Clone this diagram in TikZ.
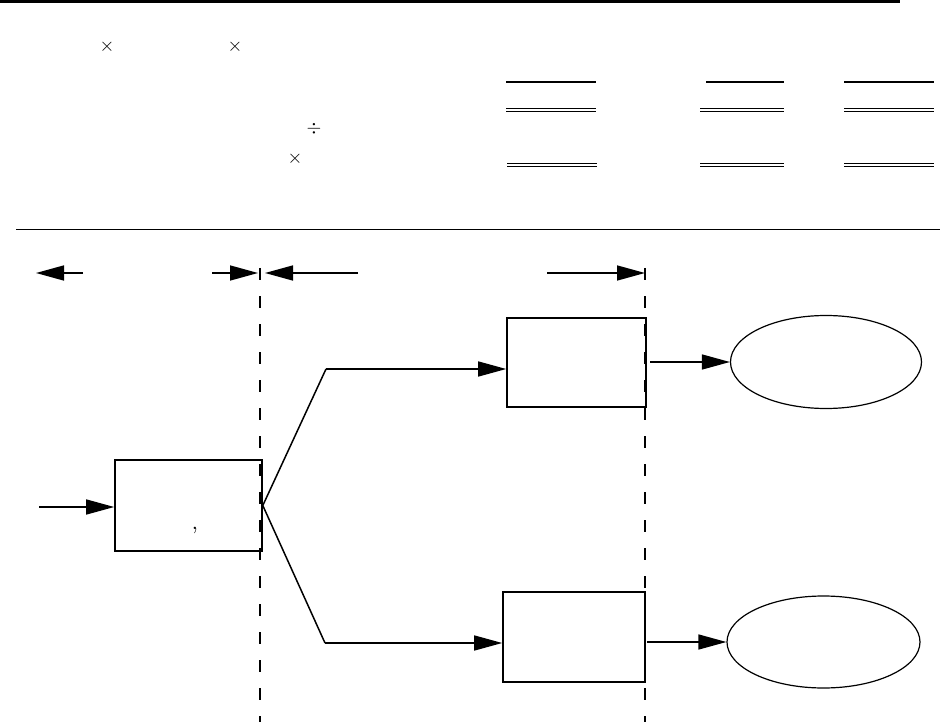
\documentclass[tikz,border=0pt]{standalone}
\usetikzlibrary{arrows.meta,shapes.geometric}
\begin{document}
\begin{tikzpicture}[x=1pt,y=-1pt,
  boxst/.style={draw,line width=1.6pt,minimum width=#1,inner sep=0pt},
  ovalst/.style={draw,ellipse,line width=1.2pt,inner sep=0pt},
  arr/.style={line width=1.5pt,-{Triangle[length=28pt,width=15pt]}},
  dline/.style={double,line width=0.9pt,double distance=1.6pt},
  sline/.style={line width=1.3pt},
  vdash/.style={line width=1.3pt,dash pattern=on 12pt off 16pt},
  sym/.style={inner sep=0pt,scale=1.9}]
\useasboundingbox (0,0) rectangle (940,722);
% rules
\draw[line width=2.8pt] (0,1.4) -- (900,1.4);
\draw[line width=1pt] (16,230) -- (940,230);
% symbols
\node[sym] (s1) at (107,47) {$\times$};
\node[sym] (s2) at (235,47) {$\times$};
\node[sym] (s3) at (314,129) {$\div$};
\node[sym] (s4) at (295,159) {$\times$};
% top-right lines
\draw[sline] (506,82) -- (596,82);
\draw[sline] (706,82) -- (784,82);
\draw[sline] (844,82) -- (934,82);
\draw[dline] (506,110) -- (596,110);
\draw[dline] (700,110) -- (784,110);
\draw[dline] (844,110) -- (934,110);
\draw[dline] (507,165) -- (597,165);
\draw[dline] (700,165) -- (784,165);
\draw[dline] (844,165) -- (934,165);
% dashed verticals
\coordinate (d1t) at (260,268);
\coordinate (d1b) at (260,722);
\coordinate (d2t) at (645,268);
\coordinate (d2b) at (645,722);
\draw[vdash] (d1t) -- (d1b);
\draw[vdash] (d2t) -- (d2b);
% dimension arrows
\coordinate (a1s) at (83,273); \coordinate (a1e) at (36,273);
\coordinate (a2s) at (212,273); \coordinate (a2e) at (258,273);
\coordinate (a3s) at (358,273); \coordinate (a3e) at (265,273);
\coordinate (a4s) at (547,273); \coordinate (a4e) at (645,273);
\draw[arr] (a1s) -- (a1e);
\draw[arr] (a2s) -- (a2e);
\draw[arr] (a3s) -- (a3e);
\draw[arr] (a4s) -- (a4e);
% boxes
\node[boxst=147pt,minimum height=91pt] (b1) at (188.5,505.5) {};
\node[inner sep=0pt,scale=2.2] (cm) at (195,530) {,};
\node[boxst=139pt,minimum height=89pt] (b2) at (576.5,362.5) {};
\node[boxst=142pt,minimum height=90pt] (b3) at (574,637) {};
\node[ovalst,minimum width=191pt,minimum height=93pt] (e1) at (826,362) {};
\node[ovalst,minimum width=193pt,minimum height=92pt] (e2) at (823.5,642) {};
% input
\coordinate (in) at (39,507);
\draw[arr] (in) -- (b1.west |- in);
% branches
\coordinate (c1) at (326,369);
\coordinate (c2) at (325,643);
\draw[line width=1.5pt] (b1.east) -- (c1);
\draw[line width=1.5pt] (b1.east) -- (c2);
\draw[arr] (c1) -- (b2.west |- c1);
\draw[arr] (c2) -- (b3.west |- c2);
% outputs
\coordinate (o1) at (650,362);
\coordinate (o2) at (647,642);
\draw[arr] (o1) -- (e1.west);
\draw[arr] (o2) -- (e2.west);
\end{tikzpicture}
\end{document}
